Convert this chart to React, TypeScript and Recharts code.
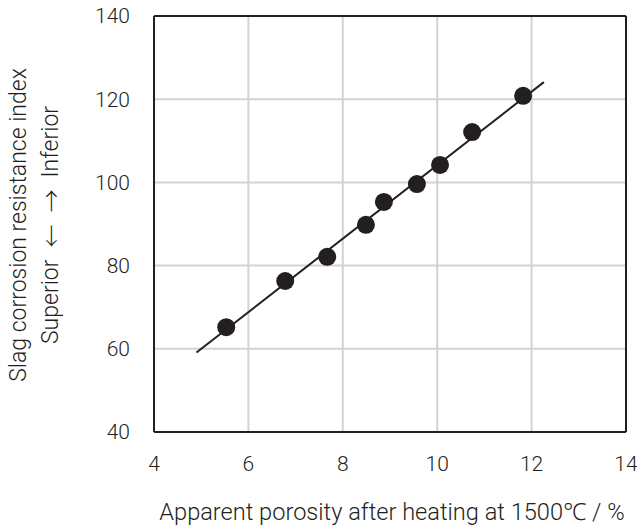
import { ScatterChart, Scatter, XAxis, YAxis, CartesianGrid, ReferenceLine, Label } from 'recharts';

const porosity = [5.53, 6.78, 7.67, 8.49, 8.87, 9.57, 10.06, 10.74, 11.82];
const corrosionIndex = [65.2, 76.3, 82.1, 89.8, 95.3, 99.6, 104.2, 112.1, 120.8];
const xTicks = [4, 6, 8, 10, 12, 14];
const yTicks = [40, 60, 80, 100, 120, 140];
const fitStart = { x: 4.9, y: 59.1 };
const fitEnd = { x: 12.26, y: 124.1 };

const ink = '#231f20';
const tickFont = 'Roboto, sans-serif';
const labelFont = 'Roboto, "Noto Sans", sans-serif';
const arrowFont = '"Noto Sans CJK JP", sans-serif';

const points = porosity.map((p, i) => ({ x: p, y: corrosionIndex[i] }));

export default function App() {
  return (
    <div style={{ position: 'absolute', left: 0, top: 0, background: '#fff' }}>
      <ScatterChart width={637} height={525} margin={{ top: 16, right: 11, left: 94, bottom: 43 }}>
        <CartesianGrid stroke="#d3d3d3" strokeWidth={2} />
        <XAxis
          type="number"
          dataKey="x"
          domain={[4, 14]}
          ticks={xTicks}
          height={50}
          axisLine={{ stroke: ink, strokeWidth: 2 }}
          tickLine={false}
          tickSize={0}
          tickMargin={24}
          tick={{ fill: ink, fontSize: 21, fontWeight: 300, fontFamily: tickFont }}
        >
          <Label
            content={({ viewBox }: any) => (
              <text
                x={viewBox.x + viewBox.width / 2 + 2}
                y={viewBox.y + 88}
                textAnchor="middle"
                fill={ink}
                fontSize={23.6}
                fontWeight={300}
                fontFamily={labelFont}
              >
                Apparent porosity after heating at 1500℃ / %
              </text>
            )}
          />
        </XAxis>
        <YAxis
          type="number"
          dataKey="y"
          domain={[40, 140]}
          ticks={yTicks}
          width={60}
          axisLine={{ stroke: ink, strokeWidth: 2 }}
          tickLine={false}
          tickSize={0}
          tickMargin={24}
          tick={{ fill: ink, fontSize: 21, fontWeight: 300, fontFamily: tickFont }}
        >
          <Label
            content={() => (
              <g fill={ink} fontSize={23} fontWeight={300} fontFamily={labelFont}>
                <text x={18} y={225} transform="rotate(-90 18 225)" textAnchor="middle" dominantBaseline="central">
                  Slag corrosion resistance index
                </text>
                <text x={50} y={225} transform="rotate(-90 50 225)" textAnchor="middle" dominantBaseline="central">
                  Superior<tspan dx={12} fontFamily={arrowFont}>←</tspan>
                  <tspan dx={12} fontFamily={arrowFont}>→</tspan>
                  <tspan dx={12}>Inferior</tspan>
                </text>
              </g>
            )}
          />
        </YAxis>
        <ReferenceLine y={140} stroke={ink} strokeWidth={2} />
        <ReferenceLine x={14} stroke={ink} strokeWidth={2} />
        <ReferenceLine segment={[fitStart, fitEnd]} stroke={ink} strokeWidth={2} />
        <Scatter
          data={points}
          fill={ink}
          isAnimationActive={false}
          shape={(props: any) => <circle cx={props.cx} cy={props.cy} r={9} fill={ink} />}
        />
      </ScatterChart>
    </div>
  );
}
